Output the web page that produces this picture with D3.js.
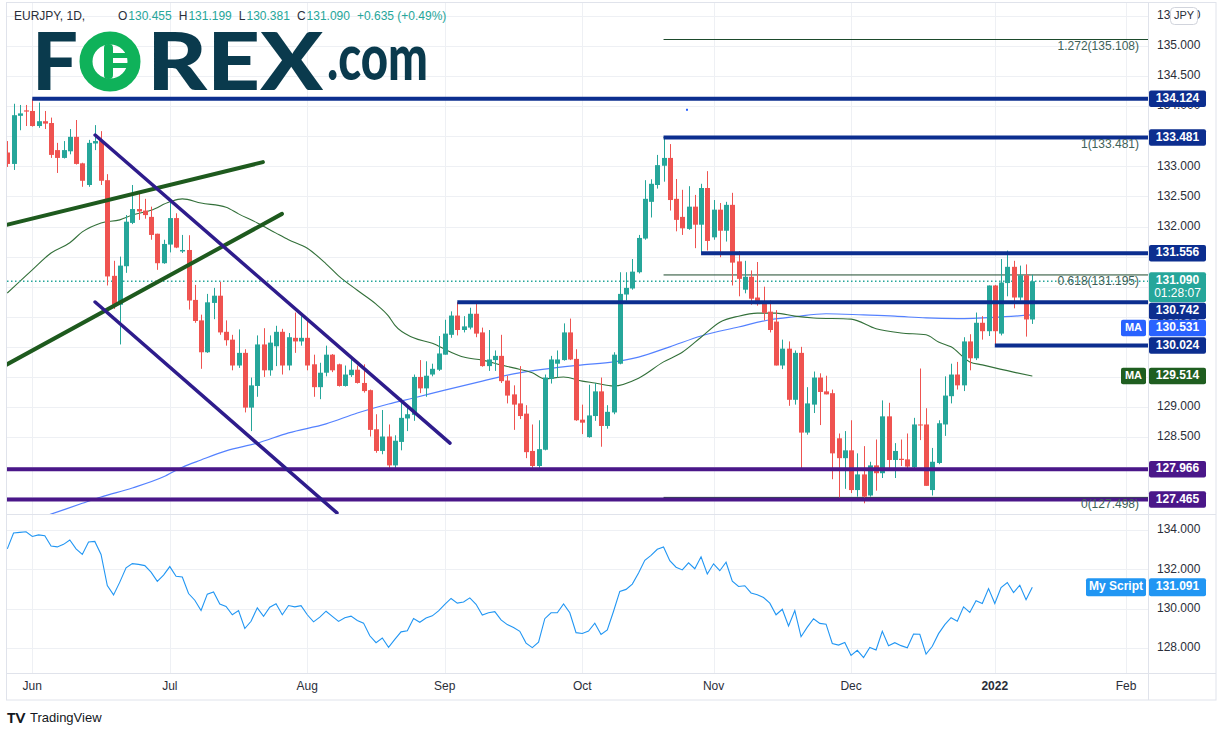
<!DOCTYPE html>
<html><head><meta charset="utf-8">
<script src="https://cdn.jsdelivr.net/npm/d3@7"></script>
<style>body{margin:0;background:#fff;} svg{display:block;font-family:"Liberation Sans",Arial,sans-serif;}</style>
</head><body><svg id="c" width="1226" height="736"></svg>
<script>
// ---------------- DATA ----------------
const startDate = "2021-05-26"; // first daily bar (weekdays only)
const opens = [133.23,133.04,133.84,133.93,133.92,133.67,133.75,133.72,133.27,133.14,133.25,133.49,133.05,132.69,133.38,133.42,132.77,131.18,130.70,131.34,132.06,132.29,132.265,132.16,131.88,131.39,131.70,132.14,131.585,131.61,
130.78,130.44,129.91,130.73,130.85,130.25,130.12,129.69,129.90,128.99,129.35,130.04,129.61,130.01,130.25,129.69,130.15,130.09,130.15,129.71,129.33,129.57,129.87,129.71,129.35,129.53,129.62,129.40,129.28,128.63,
128.27,128.51,128.03,128.42,128.81,128.87,129.50,129.31,129.54,129.62,129.87,130.20,130.52,130.28,130.32,130.55,130.24,129.68,129.78,129.85,129.44,129.21,129.06,128.89,128.27,128.02,128.29,129.47,129.72,129.78,
130.24,129.80,128.79,128.50,128.85,129.26,128.685,128.91,129.72,130.87,130.97,131.24,131.80,132.41,132.69,133.01,133.14,132.46,132.16,131.96,132.33,132.03,132.64,131.82,132.28,131.93,132.36,131.42,130.95,131.165,
130.82,130.72,130.585,130.42,129.69,129.97,129.12,129.90,128.575,129.04,129.49,129.26,129.23,128.48,128.15,128.28,127.62,127.88,127.53,128.03,127.90,128.845,128.12,128.14,128.13,128.00,128.71,128.71,127.62,128.07,
128.71,129.18,129.54,129.36,130.09,129.81,130.40,130.26,131.02,130.22,131.06,131.33,130.82,131.19,130.455];
const highs = [133.42,134.04,134.02,134.02,134.124,134.06,133.92,133.81,133.39,133.42,133.62,133.77,133.06,133.44,133.685,133.585,132.87,131.43,131.50,132.19,132.69,132.58,132.46,132.33,131.88,131.78,132.425,132.22,131.86,131.855,
131.03,130.535,130.88,130.98,131.08,130.44,130.20,130.29,129.96,129.49,130.19,130.31,130.19,130.35,130.30,130.23,130.57,130.51,130.44,129.87,129.735,130.02,129.88,129.72,129.69,129.80,129.69,129.71,129.29,128.88,
128.95,128.71,128.53,129.14,129.03,129.54,129.78,129.76,129.72,130.18,130.45,130.59,130.742,130.51,130.65,130.72,130.32,130.28,129.94,130.20,129.52,129.36,129.68,129.03,128.71,128.78,129.54,129.85,129.94,130.39,
130.47,129.96,129.04,129.37,129.40,129.49,129.03,129.91,131.24,131.24,131.46,131.86,132.77,132.785,133.19,133.481,133.37,132.79,132.61,132.67,132.525,132.71,132.92,132.44,132.39,132.41,132.56,131.59,131.43,131.27,
131.41,131.00,130.77,130.61,130.12,130.09,129.94,130.00,129.33,129.59,129.56,129.52,129.29,128.56,128.60,128.78,128.23,128.35,128.09,128.46,129.11,129.07,128.40,128.46,128.56,128.82,129.64,128.98,128.32,128.78,
129.51,129.72,129.75,130.16,130.21,130.57,130.51,131.02,131.03,131.46,131.60,131.43,131.35,131.37,131.199];
const lows = [132.99,132.94,133.60,133.67,133.66,133.64,133.62,133.14,132.89,133.13,133.20,133.03,132.66,132.66,133.27,132.69,131.02,130.63,130.04,131.23,132.04,132.11,132.13,131.78,131.28,131.38,131.57,131.64,131.56,130.62,
130.40,129.635,129.90,130.46,130.20,130.02,129.61,129.65,128.91,128.60,129.17,129.50,129.52,129.68,129.54,129.61,129.90,130.02,129.61,129.17,129.13,129.51,129.58,129.34,129.34,129.50,129.39,129.24,128.51,128.24,
128.215,127.94,127.96,128.28,128.60,128.77,129.23,129.17,129.51,129.60,129.87,130.15,130.19,130.24,130.29,130.16,129.67,129.60,129.60,129.40,129.06,128.62,128.80,128.15,127.99,127.94,128.28,129.39,129.49,129.77,
129.78,128.77,128.55,128.49,128.77,128.34,128.64,128.88,129.71,130.77,130.95,131.22,131.78,132.15,132.63,132.745,132.265,131.92,131.86,131.945,131.64,131.57,131.60,131.78,131.49,131.75,131.02,130.84,130.89,130.70,
130.685,130.44,130.24,129.69,129.63,129.02,129.04,127.98,128.54,128.90,128.70,129.21,127.80,127.49,127.64,127.57,127.51,127.40,127.51,127.61,127.82,127.94,127.82,128.02,127.95,127.95,128.45,127.69,127.53,128.05,
128.52,129.06,129.29,129.265,129.61,129.78,130.12,130.18,130.024,130.19,130.84,130.64,130.77,130.17,130.381];
const closes = [133.04,133.85,133.88,133.91,133.67,133.75,133.71,133.19,133.14,133.27,133.49,133.04,132.76,133.39,133.42,132.76,131.17,130.70,131.35,132.08,132.29,132.25,132.19,131.86,131.39,131.71,132.14,131.65,131.61,130.77,
130.43,129.91,130.74,130.85,130.24,130.11,129.69,129.90,128.99,129.36,130.04,129.61,130.07,130.25,129.69,130.16,130.09,130.15,129.69,129.33,129.57,129.87,129.61,129.35,129.54,129.62,129.40,129.265,128.62,128.27,
128.51,128.03,128.44,128.82,128.88,129.50,129.31,129.52,129.635,129.89,130.22,130.52,130.28,130.34,130.55,130.22,129.68,129.79,129.85,129.43,129.19,129.04,128.85,128.25,128.02,128.30,129.49,129.79,129.79,130.24,
129.79,128.78,128.74,128.86,129.26,128.685,128.92,129.87,130.88,130.98,131.25,131.81,132.46,132.71,133.02,133.14,132.44,132.11,131.97,132.33,132.03,132.64,131.76,132.28,131.93,132.36,131.40,131.13,131.165,130.80,
130.71,130.565,130.28,129.69,129.97,129.12,129.90,128.575,129.06,129.49,129.25,129.21,128.23,128.15,128.28,127.62,127.88,127.51,128.03,127.90,128.845,128.12,128.27,128.12,128.01,128.71,128.70,127.69,128.09,128.73,
129.19,129.54,129.36,130.09,129.81,130.40,130.26,131.02,130.26,131.07,131.33,130.82,131.19,130.455,131.090];
const scriptValues = closes; // "My Script" pane tracks the close

// moving averages: [bar index, value]
const maGreen = [[0,130.895],[4,131.28],[7,131.56],[10,131.73],[12,131.91],[15,132.06],[18,132.11],[20,132.19],[23,132.27],[26,132.41],[28,132.46],[31,132.39],[35,132.32],[37,132.21],[40,132.06],[43,131.89],[45,131.78],[48,131.64],[51,131.38],[53,131.18],[56,130.94],[59,130.71],[61,130.51],[62,130.36],[65,130.15],[68,130.06],[71,129.91],[73,129.83],[76,129.78],[79,129.70],[81,129.65],[84,129.57],[86,129.47],[89,129.50],[92,129.43],[94,129.40],[97,129.35],[101,129.48],[105,129.75],[108,129.91],[111,130.16],[114,130.41],[117,130.51],[120,130.56],[123,130.56],[126,130.51],[129,130.48],[135,130.46],[139,130.30],[143,130.23],[147,130.20],[149,130.08],[151,130.00],[154,129.75],[156,129.70],[161,129.58],[164,129.514]];
const maBlue = [[5,127.15],[7,127.22],[12,127.40],[15,127.505],[20,127.655],[25,127.84],[28,128.00],[31,128.12],[35,128.27],[40,128.40],[45,128.57],[51,128.72],[56,128.90],[61,129.05],[65,129.15],[70,129.28],[76,129.43],[81,129.55],[86,129.63],[92,129.70],[97,129.75],[101,129.83],[106,130.00],[111,130.18],[117,130.33],[122,130.45],[126,130.50],[131,130.55],[137,130.53],[142,130.51],[147,130.48],[152,130.47],[158,130.49],[164,130.531]];

// drawn objects: [bar index, price]
const greenTrend = [[[-0.2,132.025],[40.9,133.07]], [[-0.2,129.70],[43.95,132.21]]];
const purpleChannel = [[[14.05,133.52],[70.83,128.40]], [[14.05,130.745],[52.75,127.24]]];
const navyLevels = [[4,134.124],[105,133.481],[111,131.556],[72,130.742],[158,130.024]];
const purpleLevels = [[-2,127.966],[-2,127.465]];
const fibLevels = [["1.272",135.108],["1",133.481],["0.618",131.195],["0",127.498]];
const fibStart = 105;

const priceTicks = [135.5,135,134.5,134,133.5,133,132.5,132,131.5,131,130.5,130,129.5,129,128.5,128,127.5];
const lowerTicks = [134,132,130,128];
const monthDates = ["2021-06-01","2021-07-01","2021-08-02","2021-09-01","2021-10-01","2021-11-01","2021-12-01","2022-01-03","2022-02-01"];
const monthLabels = ["Jun","Jul","Aug","Sep","Oct","Nov","Dec","2022","Feb"];

const header = {sym:"EURJPY, 1D,", o:"130.455", h:"131.199", l:"130.381", c:"131.090", chg:"+0.635 (+0.49%)"};
const lastPrice = 131.090, lastScript = 131.091, countdown = "01:28:07";
const maBlueLast = 130.531, maGreenLast = 129.514;

// ---------------- LAYOUT ----------------
const plotL = 7, plotR = 1148, mainT = 3, mainB = 514, lowB = 673, axisB = 700, frameR = 1216;
const UP = "#26a69a", DOWN = "#ef5350", NAVY = "#0c2e8f", PURP = "#4a1789", GRID = "#eef0f4", TXT = "#2a2e39";

function wdIndex(s){
  const d0 = new Date(startDate+"T00:00:00Z"), d1 = new Date(s+"T00:00:00Z");
  let n = 0;
  for (let d = new Date(d0); d < d1; d.setUTCDate(d.getUTCDate()+1)) { const w = d.getUTCDay(); if (w!==0 && w!==6) n++; }
  return n;
}

const x = d3.scaleLinear().domain([0,164]).range([7.3, 7.3+6.25*164]);
const y = d3.scaleLinear().domain([127,135]).range([46+8*60.17, 46]);
const yl = d3.scaleLinear().domain([128,134]).range([648,530]);

const svg = d3.select("#c");
const defs = svg.append("defs");
defs.append("clipPath").attr("id","mainClip").append("rect").attr("x",plotL).attr("y",mainT).attr("width",plotR-plotL).attr("height",mainB-mainT);
defs.append("clipPath").attr("id","lowClip").append("rect").attr("x",plotL).attr("y",mainB).attr("width",plotR-plotL).attr("height",lowB-mainB);

// frame
svg.append("rect").attr("x",6.5).attr("y",2.5).attr("width",frameR-6.5).attr("height",axisB-2.5).attr("fill","#fff").attr("stroke","#e0e3eb");

// grid
const g = svg.append("g");
const mIdx = monthDates.map(wdIndex);
g.selectAll(".vg").data(mIdx).join("line").attr("x1",d=>Math.round(x(d))+0.5).attr("x2",d=>Math.round(x(d))+0.5)
  .attr("y1",mainT).attr("y2",lowB).attr("stroke",GRID);
const main = svg.append("g").attr("clip-path","url(#mainClip)");
main.selectAll(".hg").data(priceTicks).join("line").attr("x1",plotL).attr("x2",plotR)
  .attr("y1",d=>Math.round(y(d))+0.5).attr("y2",d=>Math.round(y(d))+0.5).attr("stroke",GRID);
svg.append("g").selectAll("line").data(lowerTicks).join("line").attr("x1",plotL).attr("x2",plotR)
  .attr("y1",d=>Math.round(yl(d))+0.5).attr("y2",d=>Math.round(yl(d))+0.5).attr("stroke",GRID);

// fib lines
main.selectAll(".fib").data(fibLevels).join("line").attr("x1",x(fibStart)).attr("x2",plotR)
  .attr("y1",d=>y(d[1])).attr("y2",d=>y(d[1])).attr("stroke","#1d4a2c").attr("stroke-width",1);

// moving averages
const lineGen = d3.line().x(d=>x(d[0])).y(d=>y(d[1])).curve(d3.curveMonotoneX);
main.append("path").attr("d",lineGen(maBlue)).attr("fill","none").attr("stroke","#2962ff").attr("stroke-opacity",0.8).attr("stroke-width",1.2);
main.append("path").attr("d",lineGen(maGreen)).attr("fill","none").attr("stroke","#33703a").attr("stroke-width",1.1);

// current price dotted
main.append("line").attr("x1",plotL).attr("x2",plotR).attr("y1",y(lastPrice)).attr("y2",y(lastPrice))
  .attr("stroke",UP).attr("stroke-dasharray","1.5,2.5").attr("stroke-width",1.4);

// candles
const idx = d3.range(opens.length);
const cg = main.append("g");
cg.selectAll(".wick").data(idx).join("line")
  .attr("x1",i=>Math.round(x(i))+0.5).attr("x2",i=>Math.round(x(i))+0.5)
  .attr("y1",i=>y(highs[i])).attr("y2",i=>y(lows[i]))
  .attr("stroke",i=>closes[i]>=opens[i]?UP:DOWN).attr("stroke-width",1);
cg.selectAll(".body").data(idx).join("rect")
  .attr("x",i=>Math.round(x(i))-2).attr("width",5)
  .attr("y",i=>y(Math.max(opens[i],closes[i])))
  .attr("height",i=>Math.max(1,Math.abs(y(opens[i])-y(closes[i]))))
  .attr("fill",i=>closes[i]>=opens[i]?UP:DOWN);

// horizontal levels
main.selectAll(".nav").data(navyLevels).join("line").attr("x1",d=>x(d[0])).attr("x2",plotR)
  .attr("y1",d=>y(d[1])).attr("y2",d=>y(d[1])).attr("stroke",NAVY).attr("stroke-width",4);
main.selectAll(".pur").data(purpleLevels).join("line").attr("x1",d=>x(d[0])).attr("x2",plotR)
  .attr("y1",d=>y(d[1])).attr("y2",d=>y(d[1])).attr("stroke",PURP).attr("stroke-width",4);

// trend lines
main.selectAll(".gt").data(greenTrend).join("line")
  .attr("x1",d=>x(d[0][0])).attr("y1",d=>y(d[0][1])).attr("x2",d=>x(d[1][0])).attr("y2",d=>y(d[1][1]))
  .attr("stroke","#1e5a1e").attr("stroke-width",4).attr("stroke-linecap","round");
main.selectAll(".pc").data(purpleChannel).join("line")
  .attr("x1",d=>x(d[0][0])).attr("y1",d=>y(d[0][1])).attr("x2",d=>x(d[1][0])).attr("y2",d=>y(d[1][1]))
  .attr("stroke","#2e1c8c").attr("stroke-width",3.5).attr("stroke-linecap","round");

// tiny marker
main.append("rect").attr("x",x(108.75)-1).attr("y",y(133.94)-1).attr("width",2).attr("height",2).attr("fill","#2962ff");

// fib labels
main.selectAll(".fibt").data(fibLevels).join("text").attr("x",1139).attr("y",d=>y(d[1])+7)
  .attr("dominant-baseline","middle").attr("text-anchor","end").attr("font-size",12).attr("fill","#3e6158")
  .text(d=>`${d[0]}(${d[1].toFixed(3)})`);

// lower pane
const low = svg.append("g").attr("clip-path","url(#lowClip)");
low.append("path").attr("d",d3.line().x((d,i)=>x(i)).y(d=>yl(d))(scriptValues))
  .attr("fill","none").attr("stroke","#2196f3").attr("stroke-width",1.1);

// pane separators and axes borders
svg.append("line").attr("x1",6.5).attr("x2",frameR).attr("y1",mainB+0.5).attr("y2",mainB+0.5).attr("stroke","#e0e3eb");
svg.append("line").attr("x1",6.5).attr("x2",frameR).attr("y1",lowB+0.5).attr("y2",lowB+0.5).attr("stroke","#e0e3eb");
svg.append("line").attr("x1",plotR+0.5).attr("x2",plotR+0.5).attr("y1",2.5).attr("y2",axisB).attr("stroke","#e0e3eb");

// value labels with collision stacking
const boxes = [
  {v:navyLevels[0][1], bg:NAVY}, {v:navyLevels[1][1], bg:NAVY}, {v:navyLevels[2][1], bg:NAVY},
  {v:lastPrice, bg:UP, two:countdown}, {v:navyLevels[3][1], bg:NAVY}, {v:maBlueLast, bg:"#2962ff", tag:"MA"},
  {v:navyLevels[4][1], bg:NAVY}, {v:maGreenLast, bg:"#1f5e20", tag:"MA"},
  {v:purpleLevels[0][1], bg:PURP}, {v:purpleLevels[1][1], bg:PURP}
].sort((a,b)=>b.v-a.v);
let prevBottom = -1e9;
boxes.forEach(b=>{
  const h = b.two ? 30 : 16.5;
  let top = b.two ? y(b.v)-9 : y(b.v)-h/2;
  if (top < prevBottom+0.5) top = prevBottom+0.5;
  b.top = top; b.h = h; prevBottom = top+h;
});

// price axis labels (skip those fully hidden behind a value box)
const visibleTicks = priceTicks.filter(t=>{
  const ty = y(t);
  return !boxes.some(b=> ty-5 >= b.top && ty+5 <= b.top+b.h);
});
const ax = svg.append("g").attr("font-size",12).attr("fill",TXT);
ax.selectAll(".pt").data(visibleTicks).join("text").attr("x",1157).attr("y",d=>y(d)).attr("dominant-baseline","middle")
  .text(d=>d.toFixed(3));
ax.selectAll(".lt").data(lowerTicks).join("text").attr("x",1157).attr("y",d=>yl(d)).attr("dominant-baseline","middle")
  .text(d=>d.toFixed(3));

// JPY box
svg.append("rect").attr("x",1170.5).attr("y",7.5).attr("width",27).attr("height",17).attr("rx",4).attr("fill","#fff").attr("stroke","#d1d4dc");
svg.append("text").attr("x",1184).attr("y",16.5).attr("text-anchor","middle").attr("dominant-baseline","middle").attr("font-size",11).attr("fill",TXT).text("JPY");

const lb = svg.append("g");
boxes.forEach(b=>{
  lb.append("rect").attr("x",1149).attr("y",b.top).attr("width",57).attr("height",b.h).attr("rx",2).attr("fill",b.bg);
  lb.append("text").attr("x",1177.5).attr("y",b.top+ (b.two?8.5:b.h/2)).attr("text-anchor","middle").attr("dominant-baseline","middle")
    .attr("font-size",12).attr("font-weight","bold").attr("fill","#fff").text(b.v.toFixed(3));
  if (b.two) lb.append("text").attr("x",1177.5).attr("y",b.top+22).attr("text-anchor","middle").attr("dominant-baseline","middle")
    .attr("font-size",12).attr("fill","#fff").text(b.two);
  if (b.tag) {
    lb.append("rect").attr("x",1121).attr("y",b.top).attr("width",25).attr("height",b.h).attr("rx",2).attr("fill",b.bg);
    lb.append("text").attr("x",1133.5).attr("y",b.top+b.h/2).attr("text-anchor","middle").attr("dominant-baseline","middle")
      .attr("font-size",11).attr("font-weight","bold").attr("fill","#fff").text(b.tag);
  }
});
// My Script label
const ys = yl(lastScript);
lb.append("rect").attr("x",1086).attr("y",ys-9).attr("width",60).attr("height",18).attr("rx",2).attr("fill","#2196f3");
lb.append("text").attr("x",1116).attr("y",ys).attr("text-anchor","middle").attr("dominant-baseline","middle").attr("font-size",12).attr("font-weight","bold").attr("fill","#fff").text("My Script");
lb.append("rect").attr("x",1149).attr("y",ys-9).attr("width",57).attr("height",18).attr("rx",2).attr("fill","#2196f3");
lb.append("text").attr("x",1177.5).attr("y",ys).attr("text-anchor","middle").attr("dominant-baseline","middle").attr("font-size",12).attr("font-weight","bold").attr("fill","#fff").text(lastScript.toFixed(3));

// time axis
svg.append("g").selectAll("text").data(monthLabels).join("text")
  .attr("x",(d,i)=>x(mIdx[i])).attr("y",687).attr("text-anchor","middle").attr("dominant-baseline","middle")
  .attr("font-size",12).attr("fill",TXT).attr("font-weight",d=>d==="2022"?"bold":"normal").text(d=>d);

// header: separate text runs placed one after another
const hdr = svg.append("g").attr("font-size",12);
hdr.append("text").attr("x",14).attr("y",17).attr("dominant-baseline","middle").attr("fill",TXT).text(header.sym);
let hx = 118;
function run(str, color, gapAfter){
  const t = hdr.append("text").attr("x",hx).attr("y",17).attr("dominant-baseline","middle").attr("fill",color).text(str);
  hx += t.node().getComputedTextLength() + gapAfter;
}
[["O",header.o],["H",header.h],["L",header.l],["C",header.c]].forEach(([k,v])=>{
  run(k, TXT, 1);
  run(v, UP, 7);
});
run(header.chg, UP, 0);

// FOREX.com logo
const logo = svg.append("g").attr("font-family","Lato, 'Open Sans', sans-serif").attr("font-weight",900);
logo.append("text").attr("x",32).attr("y",90).attr("font-size",80).attr("fill","#0a3a4d").attr("textLength",46).attr("lengthAdjust","spacingAndGlyphs").text("F");
logo.append("ellipse").attr("cx",110).attr("cy",61.5).attr("rx",24).attr("ry",23.5).attr("fill","none").attr("stroke","#0fb25a").attr("stroke-width",13);
logo.append("rect").attr("x",110).attr("y",53).attr("width",20).attr("height",5).attr("fill","#0fb25a");
logo.append("rect").attr("x",110).attr("y",63).attr("width",20).attr("height",5).attr("fill","#0fb25a");
logo.append("rect").attr("x",104).attr("y",44).attr("width",9).attr("height",35).attr("rx",4).attr("fill","#0fb25a");
logo.append("text").attr("x",147).attr("y",90).attr("font-size",80).attr("fill","#0a3a4d").attr("textLength",176).attr("lengthAdjust","spacingAndGlyphs").text("REX");
logo.append("text").attr("x",327).attr("y",80).attr("font-size",62).attr("fill","#0a3a4d").attr("textLength",101).attr("lengthAdjust","spacingAndGlyphs").text(".com");

// TradingView footer
svg.append("text").attr("x",7).attr("y",719).attr("dominant-baseline","middle").attr("font-size",14).attr("font-weight",900).attr("fill","#131722").attr("font-family","Lato, sans-serif").text("TV");
svg.append("text").attr("x",30).attr("y",719).attr("dominant-baseline","middle").attr("font-size",13).attr("fill","#131722").text("TradingView");
</script></body></html>
